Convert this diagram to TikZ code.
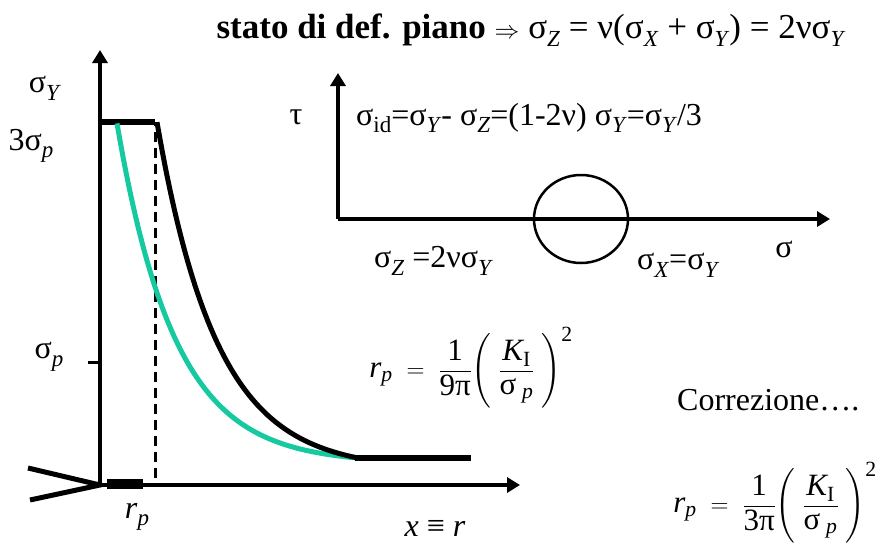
\documentclass[tikz,border=0pt]{standalone}
\usepackage{amsmath}
\usepackage{fontspec}
\setmainfont{Liberation Serif}
\usetikzlibrary{arrows.meta,positioning}
\definecolor{plastgreen}{HTML}{17C9A0}
\newcommand{\lowsub}[1]{\raisebox{-0.24em}{\fontsize{23}{24}\selectfont #1}}
\newcommand{\sgm}[1]{σ\lowsub{\textit{#1}}}
\newcommand{\rpform}[1]{$\textit{r}_{\textit{p}}\;=\;\dfrac{\text{1}}{\text{#1π}}\Biggl(\;\dfrac{\textit{K}_{\text{I}}}{\text{σ}_{\;\textit{p}}}\;\Biggr)^{\text{2}}$}
\tikzset{
  axis/.style={-{Triangle[length=13pt,width=15pt]}, line width=3.5pt},
  lab/.style={font=\fontsize{32}{38}\selectfont, inner sep=0pt},
  formula/.style={font=\fontsize{31}{38}\selectfont, inner sep=0pt},
  curve/.style={line width=5pt},
  bar/.style={line width=6pt},
  crack/.style={line width=5pt}
}

\begin{document}
\begin{tikzpicture}[x=1pt,y=-1pt]
\useasboundingbox (0,0) rectangle (887,560);
% stress plot
\coordinate (O) at (100,485);
\coordinate (ytop) at (100,50);
\coordinate (xend) at (520,485);
\coordinate (tipA) at (28,468);
\coordinate (tipB) at (30,500);
\draw[axis] (O) -- (ytop);
\draw[axis] (O) -- (xend);
\draw[crack] (tipA) -- (O) -- (tipB);
\draw[line width=10pt] (107,484) -- (143,484);
\draw[line width=3pt, dash pattern=on 10pt off 6pt] (155,478) -- (155,122);
\draw[line width=3pt] (88,362) -- (100,362);
\draw[bar] (100,122) -- (155,122);
\draw[curve, plastgreen] plot[domain=117:357, samples=80] (\x, {458-340*(exp(-(\x-117)/58)-exp(-240/58))});
\draw[curve] plot[domain=157:358, samples=80] (\x, {458-348*(exp(-(\x-157)/60)-exp(-201/60))});
\draw[bar] (355,458) -- (471,458);
\node[lab] (sy) at (45,88) {\sgm{Y}};
\node[lab] (s3p) at (31,146) {3\sgm{p}};
\node[lab] (sp) at (49,357) {\sgm{p}};
\node[lab] (rp) at (137,517) {\textit{r}\lowsub{\textit{p}}};
\node[lab] (xr) at (435,528) {\textit{x} ≡ \textit{r}};
% Mohr circle
\coordinate (M) at (338,219);
\draw[axis] (M) -- (338,73);
\draw[axis] (M) -- (830,219);
\draw[line width=2.5pt] (581,219) ellipse [x radius=47, y radius=44];
\node[lab] (tau) at (296,117) {τ};
\node[lab, anchor=west] (sid) at (356,118) {σ\lowsub{id}=\sgm{Y}- \sgm{Z}=(1-2ν) \sgm{Y}=\sgm{Y}/3};
\node[lab, anchor=west] (sz) at (374,261) {\sgm{Z} =2ν\sgm{Y}};
\node[lab, anchor=west] (sx) at (637,265) {\sgm{X}=\sgm{Y}};
\node[lab] (sig) at (784,249) {σ};
% title and formulas
\node[lab, font=\fontsize{35}{42}\selectfont] (title) at (531,30) {\textbf{stato di def. piano} $\Rightarrow$ \sgm{Z} = ν(\sgm{X} + \sgm{Y}) = 2ν\sgm{Y}};
\node[formula] (f1) at (471,368) {\rpform{9}};
\node[lab, anchor=west] (corr) at (677,400) {Correzione….};
\node[formula] (f2) at (775,503) {\rpform{3}};
\end{tikzpicture}
\end{document}
